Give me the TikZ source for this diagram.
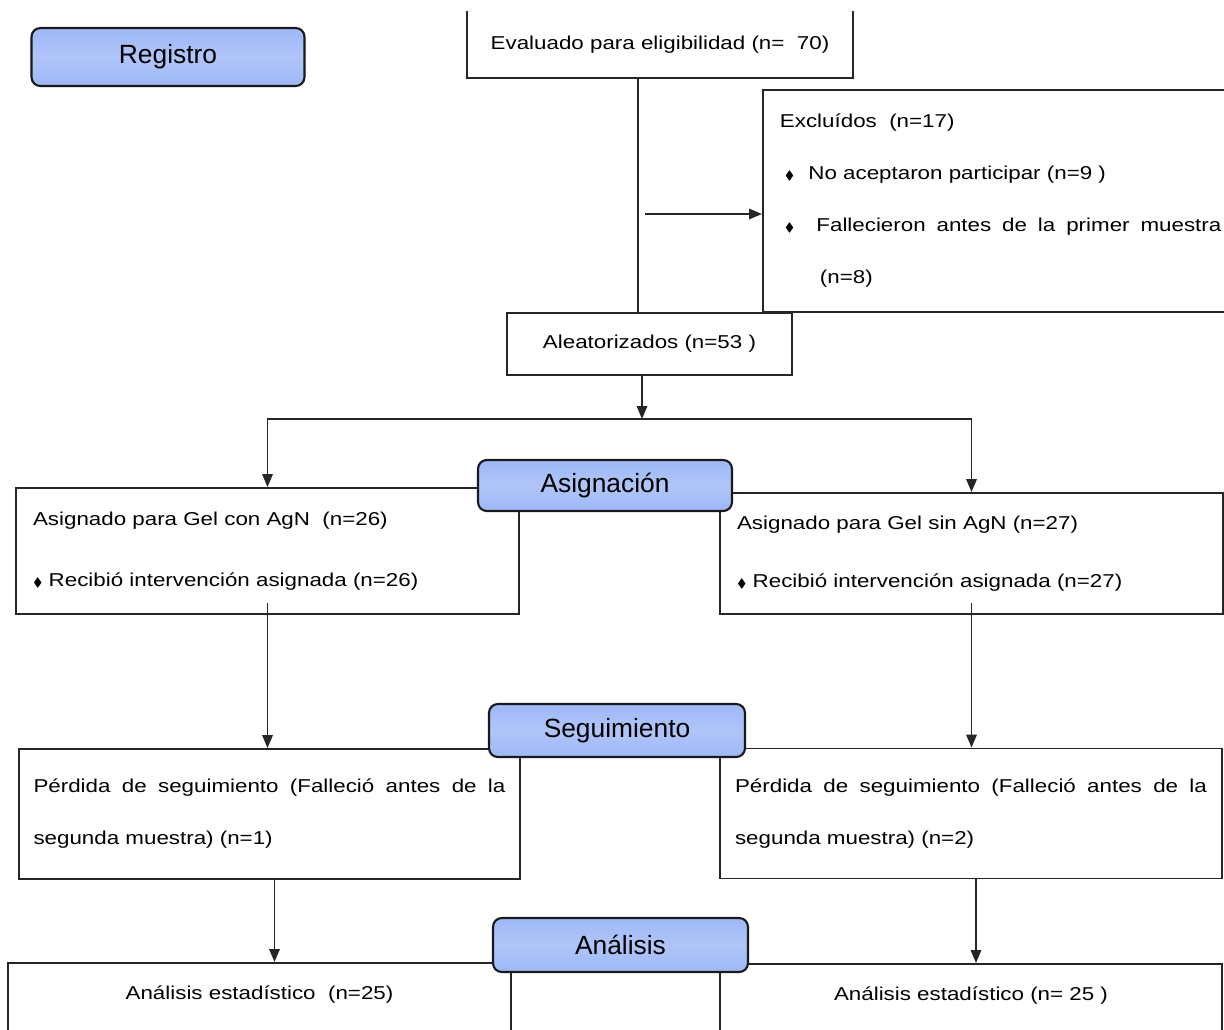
\documentclass[tikz,border=0pt]{standalone}
\usepackage{amssymb}
\usepackage{fontspec}
\setmainfont{Liberation Sans}
\newfontfamily\stretchfont{Liberation Sans}[FakeStretch=1.2]
\usepackage{tikz}
\usetikzlibrary{calc}
\usetikzlibrary{arrows.meta}

\definecolor{stageblue}{RGB}{158,184,247}
\newcommand{\rombo}{{\scriptsize$\blacklozenge$}}
\newcommand{\fullline}[2]{\makebox[#1][s]{\spaceskip=0.3em plus 1fil\relax #2}}

\tikzset{
  stage/.style={draw=black!90, line width=1.2pt, rounded corners=5pt,
    top color=stageblue, bottom color=stageblue, middle color=stageblue!82!white,
    font=\fontsize{15}{18}\selectfont, inner sep=0pt},
  flowbox/.style={draw=black!85, line width=1.1pt, inner xsep=0.34cm, inner ysep=0pt,
    font=\stretchfont\fontsize{10.6}{29.6}\selectfont, align=left},
  conn/.style={line width=1pt, black!85},
}

\begin{document}
\begin{tikzpicture}[x=0.02cm, y=-0.02cm, >={Triangle[length=0.26cm,width=0.21cm]}]

\useasboundingbox (0,0) rectangle (1224,1029);
\clip (0,0) rectangle (1224,1029);

\node[flowbox, draw=none, align=center, minimum width=7.68cm, minimum height=1.30cm] (eval) at (660,44.5)
  {Evaluado para eligibilidad (n=\ \ 70)};
\draw[line width=1.1pt, black!85] (eval.north west) |- (eval.south east) -- (eval.north east);

\node[flowbox, anchor=north west, text width=8.84cm, minimum height=4.44cm] (excl) at (762,89)
  {Excluídos\ \ (n=17)\\
   \hspace*{0.1cm}\rombo\hspace{0.28cm}No aceptaron participar (n=9 )\\
   \hspace*{0.1cm}\rombo\hspace{0.44cm}\fullline{8.1cm}{Fallecieron antes de la primer muestra}\\
   \hspace*{0.8cm}(n=8)};

\node[flowbox, align=center, minimum width=5.7cm, minimum height=1.24cm] (alea) at (649.5,344)
  {Aleatorizados (n=53 )};

\node[flowbox, text width=9.38cm, minimum height=2.52cm,
      font=\stretchfont\fontsize{10.6}{35}\selectfont] (asg1) at (267.5,551)
  {Asignado para Gel con AgN\ \ (n=26)\\ \rombo\ Recibió intervención asignada (n=26)};
\node[flowbox, text width=9.38cm, minimum height=2.42cm,
      font=\stretchfont\fontsize{10.6}{33}\selectfont] (asg2) at (971.5,553.5)
  {Asignado para Gel sin AgN (n=27)\\ \rombo\ Recibió intervención asignada (n=27)};

\node[flowbox, inner xsep=0.3cm, text width=9.44cm, minimum height=2.6cm] (per1) at (269.5,814)
  {\fullline{9.44cm}{Pérdida de seguimiento (Falleció antes de la}\\ segunda muestra) (n=1)};
\node[flowbox, inner xsep=0.3cm, text width=9.44cm, minimum height=2.6cm] (per2) at (971,813.5)
  {\fullline{9.44cm}{Pérdida de seguimiento (Falleció antes de la}\\ segunda muestra) (n=2)};

\node[flowbox, anchor=north, text width=9.38cm, align=center, text height=0.5cm, text depth=3cm,
      inner ysep=0.24cm] (an1) at (259.5,962) {Análisis estadístico\ \ (n=25)};
\node[flowbox, anchor=north, text width=9.38cm, align=center, text height=0.5cm, text depth=3cm,
      inner ysep=0.24cm] (an2) at (971,963) {Análisis estadístico (n= 25 )};

\coordinate (trunk) at (638,0);
\coordinate (exclfrom) at (645,214);
\coordinate (split) at (642,419);

\draw[conn] (eval.south -| trunk) -- (alea.north -| trunk);
\draw[conn,->] (exclfrom) -- (exclfrom -| excl.west);
\draw[conn,->] (alea.south -| split) -- (split);
\draw[conn,->] (split) -| (asg1.north);
\draw[conn,->] (split) -| (asg2.north);
\draw[conn,->] ($(asg1.south)+(0,-12)$) -- (asg1.south |- per1.north);
\draw[conn,->] ($(asg2.south)+(0,-12)$) -- (asg2.south |- per2.north);
\draw[conn,->] ($(per1.south)+(5,0)$) -- ($(per1.south |- an1.north)+(5,0)$);
\draw[conn,->] ($(per2.south)+(5,0)$) -- ($(per2.south |- an2.north)+(5,0)$);

\node[stage, minimum width=5.46cm, minimum height=1.16cm] (reg) at (168,57) {Registro};
\node[stage, minimum width=5.08cm, minimum height=1.02cm] (asig) at (605,485.5) {Asignación};
\node[stage, minimum width=5.12cm, minimum height=1.06cm] (seg) at (617,730.5) {Seguimiento};
\node[stage, minimum width=5.1cm, minimum height=1.08cm] (anal) at (620.5,945) {Análisis};

\end{tikzpicture}
\end{document}
